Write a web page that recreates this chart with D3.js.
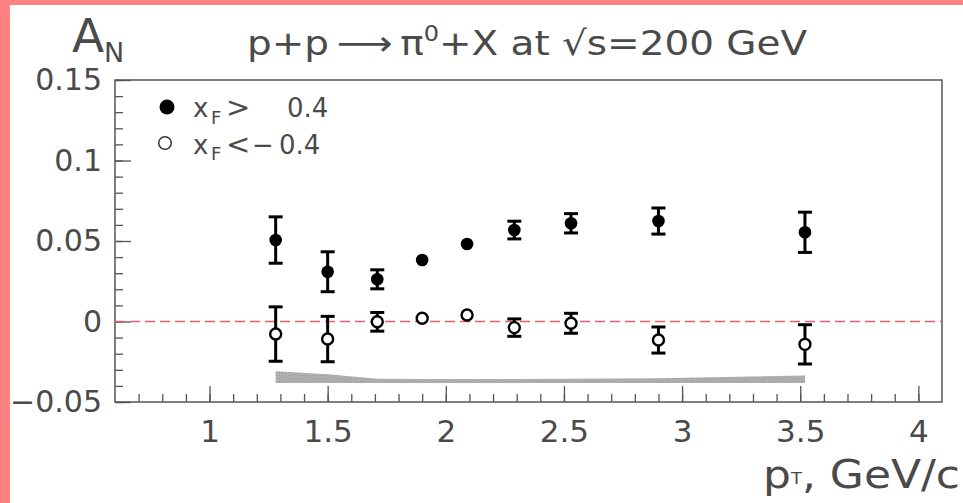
<!DOCTYPE html>
<html>
<head>
<meta charset="utf-8">
<script src="https://cdn.jsdelivr.net/npm/d3@7"></script>
<style>
  body { margin: 0; background: #fff; }
  svg { display: block; }
  text { font-family: "DejaVu Sans", "Liberation Sans", sans-serif; fill: #4a4a4a; }
</style>
</head>
<body>
<script>
// pT bins (GeV/c)
var pT = [1.28, 1.50, 1.71, 1.90, 2.09, 2.29, 2.53, 2.90, 3.52];
// xF > 0.4 (filled)
var anFwd = [0.0506, 0.0309, 0.0262, 0.0382, 0.0481, 0.0568, 0.0610, 0.0624, 0.0554];
var errFwd = [0.0144, 0.0124, 0.0059, 0.003, 0.003, 0.0055, 0.0060, 0.0081, 0.0125];
// xF < -0.4 (open)
var anBwd = [-0.0078, -0.0109, -0.0002, 0.0020, 0.0040, -0.0038, -0.0011, -0.0115, -0.0142];
var errBwd = [0.0169, 0.0141, 0.0058, 0.003, 0.003, 0.0054, 0.0062, 0.0081, 0.0122];
// systematic band
var sysLow = [-0.0382, -0.0382, -0.0382, -0.0382, -0.0382, -0.0382, -0.0382, -0.0382, -0.0382];
var sysHigh = [-0.0309, -0.0327, -0.0355, -0.0357, -0.0357, -0.0357, -0.0356, -0.0352, -0.0336];
// ticks
var xMajorTicks = [1, 1.5, 2, 2.5, 3, 3.5, 4];
var xMinorTicks = d3.range(7, 41).map(function (d) { return d / 10; });
var yMajorTicks = [-0.05, 0, 0.05, 0.1, 0.15];
var yMinorTicks = d3.range(-5, 16).map(function (d) { return d / 100; });

var svg = d3.select("body").append("svg")
    .attr("width", 963)
    .attr("height", 503);

// pink border strips
svg.append("rect").attr("x", 0).attr("y", 0).attr("width", 10).attr("height", 503).attr("fill", "#ff8282");
svg.append("rect").attr("x", 0).attr("y", 0).attr("width", 963).attr("height", 5).attr("fill", "#ff8282");

var x = d3.scaleLinear().domain([0.6, 4.1]).range([115, 942]);
var y = d3.scaleLinear().domain([-0.05, 0.15]).range([402, 80]);

// hatch for the band
var defs = svg.append("defs");
var pat = defs.append("pattern").attr("id", "hatch").attr("width", 3).attr("height", 3)
    .attr("patternUnits", "userSpaceOnUse");
pat.append("rect").attr("width", 3).attr("height", 3).attr("fill", "#b4b4b4");
pat.append("rect").attr("width", 1).attr("height", 1).attr("fill", "#909090");
pat.append("rect").attr("x", 1.5).attr("y", 1.5).attr("width", 1).attr("height", 1).attr("fill", "#909090");

var band = d3.area()
    .x(function (d, i) { return x(pT[i]); })
    .y0(function (d, i) { return y(sysLow[i]); })
    .y1(function (d, i) { return y(sysHigh[i]); });
svg.append("path").datum(pT).attr("d", band).attr("fill", "url(#hatch)");

// axes: minor + major ticks drawn inward
function styleAxis(g) {
    g.select(".domain").remove();
    g.selectAll(".tick line").attr("stroke", "#555").attr("stroke-width", 1.3);
}
svg.append("g").attr("transform", "translate(0,402)")
    .call(d3.axisBottom(x).tickValues(xMinorTicks).tickSize(-8).tickFormat(""))
    .call(styleAxis);
svg.append("g").attr("transform", "translate(0,402)")
    .call(d3.axisBottom(x).tickValues(xMajorTicks).tickSize(-16).tickPadding(18)
        .tickFormat(function (d) { return String(d); }))
    .call(styleAxis)
    .selectAll("text").attr("font-size", 31).attr("fill", "#4a4a4a")
    .attr("font-family", "DejaVu Sans, sans-serif");

svg.append("g").attr("transform", "translate(115,0)")
    .call(d3.axisLeft(y).tickValues(yMinorTicks).tickSize(-8).tickFormat(""))
    .call(styleAxis);
svg.append("g").attr("transform", "translate(115,0)")
    .call(d3.axisLeft(y).tickValues(yMajorTicks).tickSize(-16).tickPadding(13)
        .tickFormat(function (d) { return d === 0 ? "0" : (d < 0 ? "\u2212" + Math.abs(d) : String(d)); }))
    .call(styleAxis)
    .selectAll("text").attr("font-size", 30).attr("fill", "#4a4a4a")
    .attr("font-family", "DejaVu Sans, sans-serif");

// frame
svg.append("rect").attr("x", 115).attr("y", 80).attr("width", 827).attr("height", 322)
    .attr("fill", "none").attr("stroke", "#555").attr("stroke-width", 1.5);

// zero line
svg.append("line").attr("x1", x(0.6)).attr("x2", x(4.1)).attr("y1", y(0)).attr("y2", y(0))
    .attr("stroke", "#e5606a").attr("stroke-width", 1.5).attr("stroke-dasharray", "10,5");

// error bars + markers
var R = 6.3;
function drawSeries(vals, errs, filled) {
    var g = svg.append("g");
    vals.forEach(function (v, i) {
        var cx = x(pT[i]), cy = y(v);
        var half = y(v - errs[i]) - cy;
        if (half > R + 1) {
            g.append("line").attr("x1", cx).attr("x2", cx).attr("y1", y(v + errs[i])).attr("y2", y(v - errs[i]))
                .attr("stroke", "#000").attr("stroke-width", 3);
            [v + errs[i], v - errs[i]].forEach(function (e) {
                g.append("line").attr("x1", cx - 7).attr("x2", cx + 7).attr("y1", y(e)).attr("y2", y(e))
                    .attr("stroke", "#000").attr("stroke-width", 3);
            });
        }
        g.append("circle").attr("cx", cx).attr("cy", cy)
            .attr("r", filled ? R : R - 0.8)
            .attr("fill", filled ? "#000" : "#fff")
            .attr("stroke", "#000").attr("stroke-width", filled ? 0 : 2.4);
    });
}
drawSeries(anFwd, errFwd, true);
drawSeries(anBwd, errBwd, false);

// legend
svg.append("circle").attr("cx", 167).attr("cy", 107).attr("r", 7.5).attr("fill", "#000");
svg.append("circle").attr("cx", 165).attr("cy", 143).attr("r", 6.3).attr("fill", "#fff")
    .attr("stroke", "#333").attr("stroke-width", 1.5);
var leg1 = svg.append("text").attr("y", 117).attr("font-size", 26);
leg1.append("tspan").attr("x", 193).text("x");
leg1.append("tspan").attr("x", 211).attr("y", 123.5).attr("font-size", 18).text("F");
leg1.append("tspan").attr("x", 226).attr("y", 117).attr("font-size", 29).text(">");
leg1.append("tspan").attr("x", 287).text("0.4");
var leg2 = svg.append("text").attr("y", 153.5).attr("font-size", 26);
leg2.append("tspan").attr("x", 193).text("x");
leg2.append("tspan").attr("x", 211).attr("y", 160).attr("font-size", 18).text("F");
leg2.append("tspan").attr("x", 226).attr("y", 153.5).attr("font-size", 29).text("<");
leg2.append("tspan").attr("x", 252).text("\u2212");
leg2.append("tspan").attr("x", 279).text("0.4");

// A_N
svg.append("text").attr("x", 72).attr("y", 52).attr("font-size", 47).text("A");
svg.append("text").attr("x", 104).attr("y", 62).attr("font-size", 27).text("N");

// title
var title = svg.append("text").attr("x", 247).attr("y", 55).attr("font-size", 34)
    .attr("textLength", 560).attr("lengthAdjust", "spacingAndGlyphs");
title.append("tspan").text("p+p\u2009\u27F6\u2009\u03C0");
title.append("tspan").attr("dy", -14).attr("font-size", 21).text("0");
title.append("tspan").attr("dy", 14).text("+X at \u221As=200 GeV");

// x label, one text with subscript
var xl = svg.append("text").attr("x", 763).attr("y", 488).attr("font-size", 39)
    .attr("textLength", 197).attr("lengthAdjust", "spacingAndGlyphs");
xl.append("tspan").text("p");
xl.append("tspan").attr("dy", -4).attr("font-size", 16).text("T");
xl.append("tspan").attr("dy", 4).text(", GeV/c");
</script>
</body>
</html>
